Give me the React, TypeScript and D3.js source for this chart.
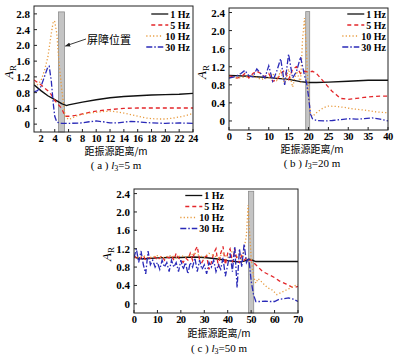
import React, { useEffect, useRef } from "react";
import * as d3 from "d3";

// panel (a) l3 = 5 m
const xA1 = [1, 2, 3, 4, 5, 5.7, 6, 8, 10, 12, 14, 16, 18, 20, 22, 24];
const yA1 = [1.0, 0.85, 0.72, 0.62, 0.52, 0.47, 0.49, 0.56, 0.62, 0.67, 0.7, 0.72, 0.74, 0.75, 0.76, 0.78];
const xA5 = [1, 2, 2.5, 3, 3.5, 4, 4.5, 5, 5.5, 6, 7, 8, 9, 10, 12, 14, 16, 18, 20, 22, 24];
const yA5 = [1.12, 1.0, 0.92, 0.85, 0.75, 0.6, 0.5, 0.4, 0.2, 0.2, 0.22, 0.26, 0.3, 0.33, 0.37, 0.4, 0.41, 0.41, 0.41, 0.41, 0.41];
const xA10 = [1, 1.5, 2, 2.5, 3, 3.5, 3.8, 4, 4.3, 4.6, 5, 5.5, 6, 6.5, 7, 8, 9, 10, 11, 12, 13, 14, 15, 16, 17, 18, 19, 20, 21, 22, 23, 24];
const yA10 = [1.05, 1.0, 1.1, 1.35, 1.7, 2.3, 2.62, 2.6, 2.3, 1.6, 0.9, 0.2, 0.12, 0.15, 0.2, 0.25, 0.28, 0.3, 0.32, 0.33, 0.31, 0.28, 0.24, 0.2, 0.16, 0.14, 0.13, 0.13, 0.15, 0.18, 0.22, 0.27];
const xA30 = [1, 1.5, 2, 2.5, 3, 3.2, 3.5, 3.8, 4, 4.3, 5, 6, 8, 9, 10, 11, 12, 13, 14, 15, 16, 18, 20, 22, 24];
const yA30 = [0.82, 0.85, 0.95, 1.2, 1.45, 1.47, 1.1, 0.5, 0.2, 0.05, 0.02, 0.02, 0.03, 0.06, 0.08, 0.06, 0.03, 0.03, 0.05, 0.07, 0.06, 0.03, 0.02, 0.03, 0.02];

// panel (b) l3 = 20 m
const xB1 = [0, 5, 10, 15, 18, 20, 22, 25, 30, 35, 40];
const yB1 = [1.01, 0.99, 0.96, 0.92, 0.87, 0.85, 0.85, 0.86, 0.88, 0.9, 0.9];
const xB5 = [0, 1, 2, 3, 4, 5, 6, 7, 8, 9, 10, 11, 12, 13, 14, 15, 16, 17, 18, 19, 20, 21, 22, 23, 24, 25, 26, 27, 28, 30, 32, 34, 36, 38, 40];
const yB5 = [1.0, 0.98, 0.95, 0.97, 1.05, 0.95, 1.05, 1.1, 1.05, 0.98, 1.05, 0.88, 0.9, 1.05, 1.12, 0.92, 1.15, 1.2, 1.05, 1.1, 1.08, 1.1, 1.05, 0.95, 0.85, 0.75, 0.65, 0.58, 0.5, 0.48, 0.5, 0.52, 0.54, 0.55, 0.55];
const xB10 = [0, 2, 4, 6, 8, 10, 11, 12, 13, 14, 15, 16, 17, 18, 18.5, 19, 19.5, 20, 20.5, 21, 22, 23, 24, 25, 27, 29, 31, 33, 35, 37, 40];
const yB10 = [0.98, 0.95, 0.97, 1.0, 0.92, 0.95, 1.05, 0.9, 1.1, 0.82, 1.15, 0.75, 1.1, 0.85, 1.8, 2.28, 1.5, 0.6, 0.15, 0.1, 0.18, 0.25, 0.3, 0.33, 0.32, 0.3, 0.27, 0.25, 0.23, 0.2, 0.18];
const xB30 = [0, 1, 2, 3, 4, 5, 6, 7, 8, 9, 10, 11, 12, 13, 14, 15, 16, 17, 18, 19, 19.5, 20, 20.5, 21, 22, 24, 26, 28, 30, 32, 34, 36, 38, 40];
const yB30 = [0.95, 0.97, 1.0, 1.05, 1.12, 1.0, 0.98, 1.15, 1.05, 0.95, 1.22, 0.88, 1.1, 1.38, 0.8, 1.48, 0.95, 1.1, 1.42, 1.0, 0.85, 0.55, 0.15, 0.05, 0.01, 0.0, 0.01, 0.03, 0.05, 0.04, 0.05, 0.07, 0.04, 0.0];

// panel (c) l3 = 50 m
const xC1 = [0, 3, 5, 10, 15, 20, 25, 30, 35, 38, 40, 43, 45, 47, 49, 50, 52, 55, 60, 65, 70];
const yC1 = [1.02, 0.98, 0.98, 1.0, 1.01, 1.01, 1.02, 1.01, 0.98, 0.96, 0.94, 0.92, 0.91, 0.93, 0.97, 0.96, 0.92, 0.92, 0.92, 0.92, 0.92];
const xC5 = [0, 1, 2, 3, 4, 5, 6, 7, 8, 9, 10, 11, 12, 13, 14, 15, 16, 17, 18, 19, 20, 21, 22, 23, 24, 25, 26, 27, 28, 29, 30, 31, 32, 33, 34, 35, 36, 37, 38, 39, 40, 41, 42, 43, 44, 45, 46, 47, 48, 49, 50, 51, 53, 55, 57, 60, 62, 65, 68, 70];
const yC5 = [1.05, 1.0, 0.95, 1.0, 1.05, 0.95, 1.0, 1.0, 0.98, 1.02, 0.95, 1.0, 1.05, 0.95, 1.02, 1.0, 1.05, 0.95, 1.1, 1.0, 0.95, 0.9, 1.0, 0.95, 1.1, 0.95, 1.15, 1.25, 0.95, 0.9, 1.0, 1.05, 0.75, 0.9, 1.1, 1.2, 0.8, 1.1, 1.25, 0.85, 1.1, 1.2, 0.9, 1.2, 0.95, 0.9, 1.05, 0.95, 1.0, 0.95, 0.95, 0.9, 0.8, 0.7, 0.65, 0.57, 0.5, 0.43, 0.35, 0.38];
const xC10 = [0, 2, 4, 6, 8, 10, 12, 14, 16, 18, 20, 22, 24, 26, 28, 30, 32, 34, 36, 38, 40, 42, 44, 45, 46, 47, 48, 48.7, 49.3, 50, 51, 52, 53, 55, 57, 59, 61, 63, 65, 67, 69, 70];
const yC10 = [1.0, 1.02, 1.05, 1.0, 1.02, 1.05, 1.0, 1.03, 1.05, 1.0, 1.05, 1.02, 1.05, 1.1, 1.05, 1.0, 1.1, 1.05, 1.0, 1.1, 1.0, 1.15, 1.0, 1.1, 0.9, 1.2, 1.5, 2.15, 1.6, 1.0, 0.6, 0.45, 0.55, 0.45, 0.35, 0.3, 0.2, 0.25, 0.3, 0.35, 0.4, 0.42];
const xC30 = [0, 1, 2, 3, 4, 5, 6, 7, 8, 9, 10, 11, 12, 13, 14, 15, 16, 17, 18, 19, 20, 21, 22, 23, 24, 25, 26, 27, 28, 29, 30, 31, 32, 33, 34, 35, 36, 37, 38, 39, 40, 41, 42, 43, 44, 45, 46, 47, 48, 49, 50, 51, 52, 54, 56, 58, 60, 62, 64, 66, 68, 70];
const yC30 = [1.0, 1.2, 0.9, 1.15, 0.85, 0.65, 1.15, 0.85, 0.95, 0.8, 0.9, 0.75, 0.95, 0.8, 0.9, 0.7, 0.95, 0.8, 0.9, 0.7, 0.95, 0.75, 0.9, 0.65, 0.9, 0.8, 1.0, 0.7, 0.95, 0.75, 0.85, 0.65, 0.9, 0.8, 0.95, 0.7, 0.85, 0.75, 1.0, 0.6, 0.85, 1.1, 0.7, 1.25, 0.35, 1.2, 0.8, 1.3, 0.9, 1.0, 0.5, 0.2, 0.05, 0.05, 0.06, 0.05, 0.05, 0.1, 0.11, 0.13, 0.1, 0.05];

const legendLabels = ["1 Hz", "5 Hz", "10 Hz", "30 Hz"];
const xLabel = "距振源距离/m";

const seriesStyle = [
  { color: "#111", dash: null },
  { color: "#e3262a", dash: "4,3" },
  { color: "#e89a3c", dash: "1.2,2.2" },
  { color: "#2a2ab8", dash: "6,2,1.5,2" },
];

const panels = [
  {
    id: "a", l3: "5", x: [34, 193], y: [6, 132], xDomain: [1, 24], yDomain: [-0.2, 3.0],
    xTicks: d3.range(2, 25, 2), yTicks: d3.range(0, 2.81, 0.4), barrier: [4.55, 5.4], barrierTop: 2.85,
    legendRight: 190, legendTop: 14, legendGap: 11, yLabelX: 13, xLabelY: 155, captionY: 169, labelCx: 116,
    series: [[xA1, yA1], [xA5, yA5], [xA10, yA10], [xA30, yA30]],
  },
  {
    id: "b", l3: "20", x: [229, 388], y: [8, 130], xDomain: [0, 40], yDomain: [-0.2, 2.5],
    xTicks: d3.range(0, 41, 5), yTicks: d3.range(0, 2.41, 0.4), barrier: [19.3, 20.3], barrierTop: 2.42,
    legendRight: 386, legendTop: 14, legendGap: 11, yLabelX: 206, xLabelY: 153, captionY: 167, labelCx: 312,
    series: [[xB1, yB1], [xB5, yB5], [xB10, yB10], [xB30, yB30]],
  },
  {
    id: "c", l3: "50", x: [134, 298], y: [189, 313], xDomain: [0, 70], yDomain: [-0.2, 2.5],
    xTicks: d3.range(0, 71, 10), yTicks: d3.range(0, 2.41, 0.4), barrier: [48.9, 51.1], barrierTop: 2.45,
    legendRight: 224, legendTop: 195.5, legendGap: 11, yLabelX: 111, xLabelY: 337, captionY: 352, labelCx: 219,
    series: [[xC1, yC1], [xC5, yC5], [xC10, yC10], [xC30, yC30]],
  },
];

const serif = "'Liberation Serif', 'Times New Roman', serif";
const cjk = "'Noto Sans CJK SC', sans-serif";

const App = () => {
  const svgRef = useRef(null);

  useEffect(() => {
    const svg = d3.select(svgRef.current);
    svg.selectAll("*").remove();

    const defs = svg.append("defs");
    defs
      .append("marker")
      .attr("id", "arrow")
      .attr("viewBox", "0 0 10 10")
      .attr("refX", 9)
      .attr("refY", 5)
      .attr("markerWidth", 6)
      .attr("markerHeight", 6)
      .attr("orient", "auto")
      .append("path")
      .attr("d", "M0,1 L10,5 L0,9 z")
      .attr("fill", "#222");

    panels.forEach((p) => {
      const x = d3.scaleLinear().domain(p.xDomain).range(p.x);
      const y = d3.scaleLinear().domain(p.yDomain).range([p.y[1], p.y[0]]);
      const g = svg.append("g");

      defs
        .append("clipPath")
        .attr("id", "clip-" + p.id)
        .append("rect")
        .attr("x", p.x[0])
        .attr("y", p.y[0])
        .attr("width", p.x[1] - p.x[0])
        .attr("height", p.y[1] - p.y[0]);

      // barrier
      g.append("rect")
        .attr("x", x(p.barrier[0]))
        .attr("y", y(p.barrierTop))
        .attr("width", x(p.barrier[1]) - x(p.barrier[0]))
        .attr("height", p.y[1] - y(p.barrierTop))
        .attr("fill", "#c4c4c4")
        .attr("stroke", "#8c8c8c")
        .attr("stroke-width", 0.8);

      // series
      const line = d3
        .line()
        .x((d) => x(d[0]))
        .y((d) => y(d[1]));
      const lines = g.append("g").attr("clip-path", `url(#clip-${p.id})`);
      p.series.forEach(([xs, ys], i) => {
        const pts = xs.map((v, k) => [v, ys[k]]);
        lines
          .append("path")
          .attr("d", line(pts))
          .attr("fill", "none")
          .attr("stroke", seriesStyle[i].color)
          .attr("stroke-width", i === 0 ? 1.4 : 1.3)
          .attr("stroke-dasharray", seriesStyle[i].dash);
      });

      // frame
      g.append("rect")
        .attr("x", p.x[0])
        .attr("y", p.y[0])
        .attr("width", p.x[1] - p.x[0])
        .attr("height", p.y[1] - p.y[0])
        .attr("fill", "none")
        .attr("stroke", "#222")
        .attr("stroke-width", 1);

      // ticks
      p.xTicks.forEach((t) => {
        g.append("line")
          .attr("x1", x(t)).attr("x2", x(t))
          .attr("y1", p.y[1]).attr("y2", p.y[1] - 3)
          .attr("stroke", "#222");
        g.append("text")
          .attr("x", x(t))
          .attr("y", p.y[1] + 10)
          .attr("text-anchor", "middle")
          .attr("font-family", serif)
          .attr("font-weight", "bold")
          .attr("font-size", 10.5)
          .attr("letter-spacing", -0.6)
          .text(t);
      });
      p.yTicks.forEach((t) => {
        g.append("line")
          .attr("x1", p.x[0]).attr("x2", p.x[0] + 3)
          .attr("y1", y(t)).attr("y2", y(t))
          .attr("stroke", "#222");
        g.append("text")
          .attr("x", p.x[0] - 4)
          .attr("y", y(t) + 4)
          .attr("text-anchor", "end")
          .attr("font-family", serif)
          .attr("font-weight", "bold")
          .attr("font-size", 11)
          .text(Math.abs(t) < 1e-9 ? "0" : d3.format(".1f")(t));
      });

      // y label A_R
      const yl = g
        .append("text")
        .attr("transform", `translate(${p.yLabelX},${(p.y[0] + p.y[1]) / 2 + 10}) rotate(-90)`)
        .attr("font-family", serif)
        .attr("font-size", 13);
      yl.append("tspan").attr("font-style", "italic").text("A");
      yl.append("tspan").attr("font-size", 9).attr("dy", 3).text("R");

      // x label and caption
      g.append("text")
        .attr("x", p.labelCx)
        .attr("y", p.xLabelY)
        .attr("text-anchor", "middle")
        .attr("font-family", cjk)
        .attr("font-size", 10)
        .text(xLabel);
      const cap = g
        .append("text")
        .attr("x", p.labelCx)
        .attr("y", p.captionY)
        .attr("text-anchor", "middle")
        .attr("font-family", serif)
        .attr("font-size", 11)
        .attr("xml:space", "preserve");
      cap.append("tspan").text(`( ${p.id} ) `);
      cap.append("tspan").attr("font-style", "italic").text("l");
      cap.append("tspan").attr("font-size", 8).attr("dy", 2).text("3");
      cap.append("tspan").attr("dy", -2).text(`=${p.l3} m`);

      // legend
      legendLabels.forEach((lab, i) => {
        const ty = p.legendTop + i * p.legendGap;
        const t = g
          .append("text")
          .attr("x", p.legendRight)
          .attr("y", ty + 3.5)
          .attr("text-anchor", "end")
          .attr("font-family", serif)
          .attr("font-weight", "bold")
          .attr("font-size", 10)
          .text(lab);
        const w = t.node().getComputedTextLength();
        const x2 = p.legendRight - w - 2;
        g.append("line")
          .attr("x1", x2 - 17)
          .attr("x2", x2)
          .attr("y1", ty)
          .attr("y2", ty)
          .attr("stroke", seriesStyle[i].color)
          .attr("stroke-width", 1.3)
          .attr("stroke-dasharray", seriesStyle[i].dash);
      });

      if (p.id === "a") {
        g.append("line")
          .attr("x1", 86)
          .attr("y1", 39)
          .attr("x2", x(p.barrier[1]) + 1)
          .attr("y2", 46)
          .attr("stroke", "#222")
          .attr("stroke-width", 0.9)
          .attr("marker-end", "url(#arrow)");
        g.append("text")
          .attr("x", 87)
          .attr("y", 44)
          .attr("font-family", cjk)
          .attr("font-size", 11)
          .text("屏障位置");
      }
    });
  }, []);

  return (
    <div>
      <svg
        ref={svgRef}
        width={403}
        height={362}
        style={{ position: "absolute", left: 0, top: 0, background: "#fff" }}
      ></svg>
    </div>
  );
};

export default App;
